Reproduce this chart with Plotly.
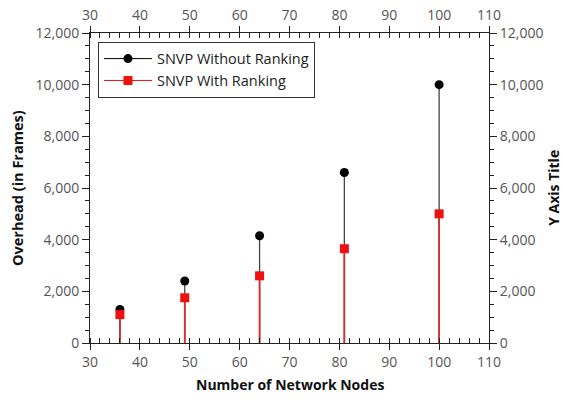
import plotly.graph_objects as go

nodes = [36, 49, 64, 81, 100]
without_ranking = [1300, 2400, 4150, 6600, 10000]
with_ranking = [1100, 1750, 2600, 3650, 5000]
x_ticks = [30, 40, 50, 60, 70, 80, 90, 100, 110]
y_ticks = [0, 2000, 4000, 6000, 8000, 10000, 12000]
y_tick_labels = ["0", "2,000", "4,000", "6,000", "8,000", "10,000", "12,000"]

BLACK = "#000000"
STEM_BLACK = "#444444"
RED = "#ee1111"
STEM_RED = "#d03030"
FONT = "Open Sans"

fig = go.Figure()

fig.add_trace(go.Scatter(
    x=nodes, y=without_ranking, mode="markers", showlegend=False,
    marker=dict(symbol="circle", size=9, color=BLACK),
    error_y=dict(type="data", symmetric=False, array=[0]*len(nodes),
                 arrayminus=without_ranking, width=0, thickness=1.3, color=STEM_BLACK),
))
fig.add_trace(go.Scatter(
    x=nodes, y=with_ranking, mode="markers", showlegend=False,
    marker=dict(symbol="square", size=9, color=RED),
    error_y=dict(type="data", symmetric=False, array=[0]*len(nodes),
                 arrayminus=with_ranking, width=0, thickness=1.8, color=STEM_RED),
))
fig.add_trace(go.Scatter(
    x=[None], y=[None], mode="lines+markers", name="SNVP Without Ranking",
    line=dict(color=BLACK, width=1), marker=dict(symbol="circle", size=9, color=BLACK),
))
fig.add_trace(go.Scatter(
    x=[None], y=[None], mode="lines+markers", name="SNVP With Ranking",
    line=dict(color=RED, width=1), marker=dict(symbol="square", size=9, color=RED),
))
fig.add_trace(go.Scatter(x=[None], y=[None], xaxis="x2", yaxis="y2", showlegend=False))

tickfont = dict(family=FONT, size=14, color="#555555")
common_x = dict(range=[30, 110], tickvals=x_ticks, ticktext=[str(v) for v in x_ticks],
                showgrid=False, zeroline=False, showline=True, linecolor="#222222", linewidth=1,
                ticks="outside", ticklen=6, tickcolor="#222222", tickwidth=1,
                minor=dict(dtick=2, ticks="inside", ticklen=5, tickcolor="#222222", tickwidth=1),
                tickfont=tickfont, automargin=False)
common_y = dict(range=[0, 12000], tickvals=y_ticks, ticktext=y_tick_labels,
                showgrid=False, zeroline=False, showline=True, linecolor="#222222", linewidth=1,
                ticks="outside", ticklen=7, tickcolor="#222222", tickwidth=1,
                minor=dict(dtick=500, ticks="outside", ticklen=4, tickcolor="#222222", tickwidth=1),
                tickfont=tickfont, automargin=False)

title_font = dict(family=FONT, color="#111111")

fig.update_layout(
    width=565, height=399,
    margin=dict(l=90, r=76, t=33, b=56),
    paper_bgcolor="white", plot_bgcolor="white",
    font=dict(family=FONT, size=14, color="#222222"),
    xaxis=dict(**common_x),
    xaxis2=dict(**common_x, overlaying="x", side="top", anchor="y"),
    yaxis=dict(**common_y),
    yaxis2=dict(**common_y, overlaying="y", side="right", anchor="x"),
    legend=dict(x=0.02, y=0.972, xanchor="left", yanchor="top",
                bordercolor="#333333", borderwidth=1, bgcolor="white",
                font=dict(family=FONT, size=14.5, color="#222222"),
                tracegroupgap=0, itemwidth=48),
    showlegend=True,
    annotations=[
        dict(text="<b>Number of Network Nodes</b>", xref="paper", yref="paper",
             x=0.5, y=-0.135, xanchor="center", yanchor="middle", showarrow=False,
             font=dict(**title_font, size=14)),
        dict(text="<b>Overhead (in Frames)</b>", xref="paper", yref="paper",
             x=-0.183, y=0.5, xanchor="center", yanchor="middle", showarrow=False,
             textangle=-90, font=dict(**title_font, size=14.5)),
        dict(text="<b>Y Axis Title</b>", xref="paper", yref="paper",
             x=1.16, y=0.5, xanchor="center", yanchor="middle", showarrow=False,
             textangle=-90, font=dict(**title_font, size=14)),
    ],
)

fig.write_html("out.html", config={"displayModeBar": False},
               post_script="document.body.style.margin='0';")
